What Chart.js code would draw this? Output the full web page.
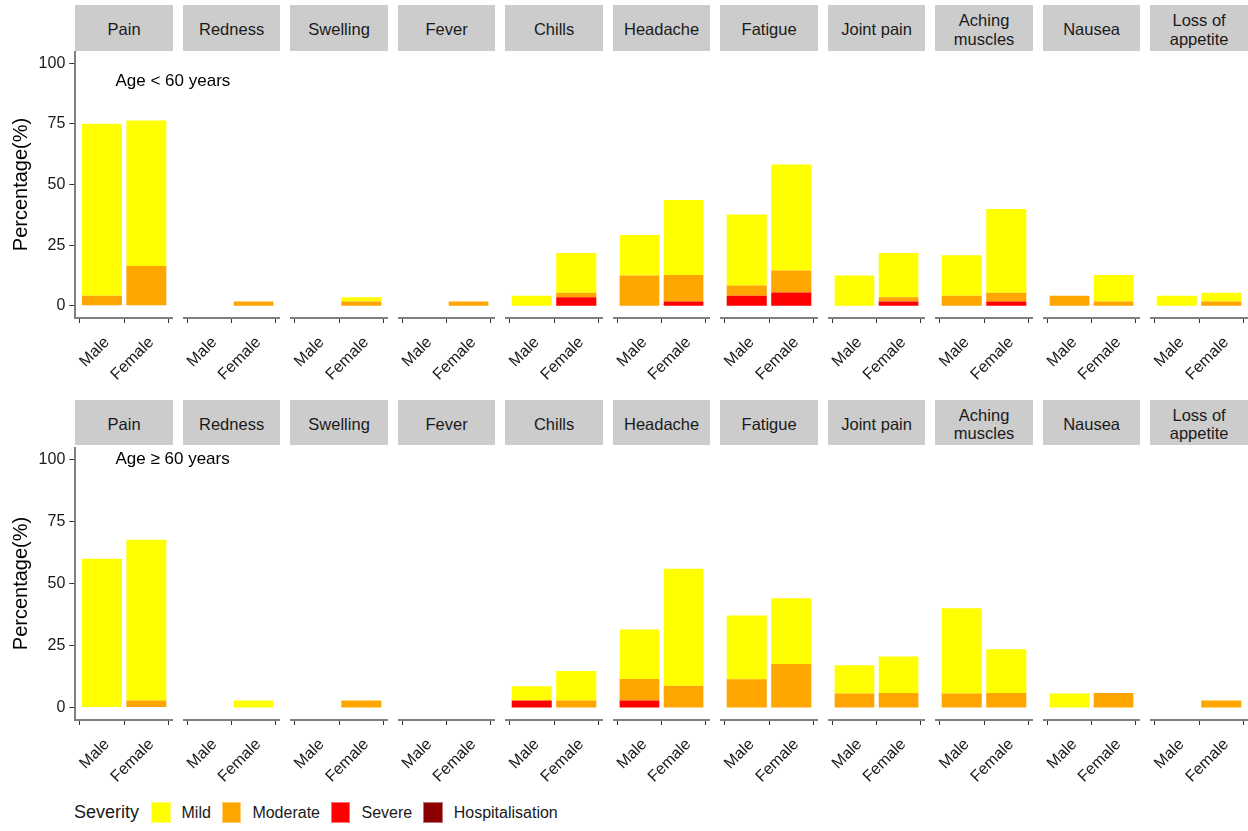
<!DOCTYPE html>
<html>
<head>
<meta charset="utf-8">
<script src="https://cdn.jsdelivr.net/npm/chart.js@4.4.0/dist/chart.umd.min.js"></script>
<style>
  html, body { margin: 0; padding: 0; background: #fff; }
  body { width: 1248px; height: 831px; overflow: hidden; position: relative;
         font-family: "Liberation Sans", Arial, sans-serif; }
  .strip { position: absolute; background: #cccccc; display: flex; align-items: center;
           justify-content: center; text-align: center; font-size: 16.5px; line-height: 18.6px;
           color: #1a1a1a; box-sizing: border-box; padding-top: 3.5px; }
  .panel { position: absolute; }
  .panel canvas { display: block; }
  .tag { position: absolute; font-size: 17px; color: #000; white-space: nowrap; line-height: 20px; }
  .legend { position: absolute; left: 74px; top: 802px; height: 21px; display: flex;
            align-items: center; color: #1a1a1a; white-space: nowrap; }
  .legend .title { font-size: 18px; margin-right: 12px; }
  .legend .key { width: 19.5px; height: 20.5px; box-sizing: border-box;
                 border: 1px solid rgba(255,255,255,0.45); }
  .legend .lab { font-size: 16px; margin-left: 11px; margin-right: 11px; }
</style>
</head>
<body>
<script>
// Symptom facets (columns) and the two sexes inside each facet
const symptoms = ['Pain', 'Redness', 'Swelling', 'Fever', 'Chills', 'Headache', 'Fatigue',
                  'Joint pain', 'Aching muscles', 'Nausea', 'Loss of appetite'];
const stripLabels = ['Pain', 'Redness', 'Swelling', 'Fever', 'Chills', 'Headache', 'Fatigue',
                     'Joint pain', ['Aching', 'muscles'], 'Nausea', ['Loss of', 'appetite']];
const sexes = ['Male', 'Female'];
// Stack order, bottom to top
const severities = ['Hospitalisation', 'Severe', 'Moderate', 'Mild'];
const legendOrder = ['Mild', 'Moderate', 'Severe', 'Hospitalisation'];
const yTicks = [0, 25, 50, 75, 100];
const ageLabels = ['Age < 60 years', 'Age \u2265 60 years'];

// Percentages by symptom (same order as `symptoms`)
// Age < 60 years, male
const under60MaleMild     = [70.8, 0, 0, 0, 4.2, 16.7, 29.2, 12.5, 16.7, 0, 4.2];
const under60MaleModerate = [4.2, 0, 0, 0, 0, 12.5, 4.2, 0, 4.2, 4.2, 0];
const under60MaleSevere   = [0, 0, 0, 0, 0, 0, 4.2, 0, 0, 0, 0];
const under60MaleHosp     = [0, 0, 0, 0, 0, 0, 0, 0, 0, 0, 0];
// Age < 60 years, female
const under60FemaleMild     = [60.0, 0, 1.8, 0, 16.4, 30.9, 43.6, 18.2, 34.5, 10.9, 3.6];
const under60FemaleModerate = [16.4, 1.8, 1.8, 1.8, 1.8, 10.9, 9.1, 1.8, 3.6, 1.8, 1.8];
const under60FemaleSevere   = [0, 0, 0, 0, 3.6, 1.8, 5.5, 1.8, 1.8, 0, 0];
const under60FemaleHosp     = [0, 0, 0, 0, 0, 0, 0, 0, 0, 0, 0];
// Age >= 60 years, male
const over60MaleMild     = [60.0, 0, 0, 0, 5.7, 20.0, 25.7, 11.4, 34.3, 5.7, 0];
const over60MaleModerate = [0, 0, 0, 0, 0, 8.6, 11.4, 5.7, 5.7, 0, 0];
const over60MaleSevere   = [0, 0, 0, 0, 2.9, 2.9, 0, 0, 0, 0, 0];
const over60MaleHosp     = [0, 0, 0, 0, 0, 0, 0, 0, 0, 0, 0];
// Age >= 60 years, female
const over60FemaleMild     = [64.7, 2.9, 0, 0, 11.8, 47.1, 26.5, 14.7, 17.6, 0, 0];
const over60FemaleModerate = [2.9, 0, 2.9, 0, 2.9, 8.8, 17.6, 5.9, 5.9, 5.9, 2.9];
const over60FemaleSevere   = [0, 0, 0, 0, 0, 0, 0, 0, 0, 0, 0];
const over60FemaleHosp     = [0, 0, 0, 0, 0, 0, 0, 0, 0, 0, 0];

const severityColors = {
  Mild: '#FFFF00', Moderate: '#FFA500', Severe: '#FF0000', Hospitalisation: '#8B0000'
};

const rowValues = [
  {
    Male:   { Mild: under60MaleMild, Moderate: under60MaleModerate, Severe: under60MaleSevere, Hospitalisation: under60MaleHosp },
    Female: { Mild: under60FemaleMild, Moderate: under60FemaleModerate, Severe: under60FemaleSevere, Hospitalisation: under60FemaleHosp }
  },
  {
    Male:   { Mild: over60MaleMild, Moderate: over60MaleModerate, Severe: over60MaleSevere, Hospitalisation: over60MaleHosp },
    Female: { Mild: over60FemaleMild, Moderate: over60FemaleModerate, Severe: over60FemaleSevere, Hospitalisation: over60FemaleHosp }
  }
];

// Facet grid geometry
const FONT = '"Liberation Sans", Arial, sans-serif';
const PANEL_LEFT = 75.3, PANEL_PITCH = 107.5, PANEL_W = 97.6;
const X_AXIS_H = 75;
const rowLayout = [
  { stripTop: 5.2, stripBottom: 50.7, plotTop: 51, axisY: 318, tagTop: 70.5 },
  { stripTop: 400, stripBottom: 445, plotTop: 447, axisY: 720, tagTop: 448.5 }
];

function zeroPadding(s) {
  s.paddingLeft = 0; s.paddingRight = 0; s.paddingTop = 0; s.paddingBottom = 0;
}

function addStrip(row, c) {
  const L = rowLayout[row];
  const el = document.createElement('div');
  el.className = 'strip';
  const left = PANEL_LEFT + c * PANEL_PITCH;
  el.style.left = left + 'px';
  el.style.width = PANEL_W + 'px';
  el.style.top = L.stripTop + 'px';
  el.style.height = (L.stripBottom - L.stripTop) + 'px';
  const lab = stripLabels[c];
  if (Array.isArray(lab)) {
    lab.forEach((t, i) => {
      if (i) el.appendChild(document.createElement('br'));
      el.appendChild(document.createTextNode(t));
    });
  } else {
    el.textContent = lab;
  }
  document.body.appendChild(el);
}

function addPanel(row, c) {
  const L = rowLayout[row];
  const first = c === 0;
  const panelLeft = PANEL_LEFT + c * PANEL_PITCH;
  const left = first ? 0 : Math.round(panelLeft);
  const right = Math.round(panelLeft + PANEL_W);
  const top = L.plotTop;
  const plotH = L.axisY - top;
  const width = right - left;
  const height = plotH + X_AXIS_H;

  const wrap = document.createElement('div');
  wrap.className = 'panel';
  wrap.style.left = left + 'px';
  wrap.style.top = top + 'px';
  const cv = document.createElement('canvas');
  cv.width = width; cv.height = height;
  cv.style.width = width + 'px'; cv.style.height = height + 'px';
  wrap.appendChild(cv);
  document.body.appendChild(wrap);

  const vals = rowValues[row];
  const datasets = severities.map(s => ({
    label: s,
    backgroundColor: severityColors[s],
    borderWidth: 0,
    data: sexes.map((sex, i) => ({ x: i + 1, y: vals[sex][s][c] }))
  }));

  new Chart(cv, {
    type: 'bar',
    data: { datasets },
    options: {
      responsive: false,
      animation: false,
      devicePixelRatio: 1,
      layout: { padding: 0, autoPadding: false },
      barPercentage: 0.9,
      categoryPercentage: 1.0,
      plugins: { legend: { display: false }, tooltip: { enabled: false } },
      scales: {
        x: {
          type: 'linear', min: 0.4, max: 2.6, stacked: true, offset: false,
          afterBuildTicks: s => { s.ticks = sexes.map((_, i) => ({ value: i + 1 })); },
          afterFit: s => { s.height = X_AXIS_H; zeroPadding(s); },
          ticks: {
            autoSkip: false, minRotation: 45, maxRotation: 45, padding: 10, labelOffset: 5,
            font: { family: FONT, size: 16 }, color: '#1a1a1a',
            callback: v => sexes[Math.round(v) - 1]
          },
          grid: { display: true, drawOnChartArea: false, drawTicks: true, tickLength: 5,
                  tickColor: '#333333', tickWidth: 1 },
          border: { display: true, color: '#7f7f7f', width: 2 }
        },
        y: {
          display: first, min: -5, max: 105, stacked: true,
          afterBuildTicks: s => { s.ticks = yTicks.map(v => ({ value: v })); },
          afterFit: s => { s.width = first ? PANEL_LEFT : 0; zeroPadding(s); },
          ticks: { font: { family: FONT, size: 16 }, color: '#1a1a1a', padding: 4 },
          grid: { display: true, drawOnChartArea: false, drawTicks: true, tickLength: 6,
                  tickColor: '#333333', tickWidth: 1 },
          border: { display: true, color: '#7f7f7f', width: 2 },
          title: { display: true, text: 'Percentage(%)', color: '#000',
                   font: { family: FONT, size: 20 }, padding: { top: 9, bottom: 0 } }
        }
      }
    }
  });
}

rowLayout.forEach((L, row) => {
  symptoms.forEach((_, c) => { addStrip(row, c); addPanel(row, c); });
  const tag = document.createElement('div');
  tag.className = 'tag';
  tag.style.left = '115.5px';
  tag.style.top = L.tagTop + 'px';
  tag.textContent = ageLabels[row];
  document.body.appendChild(tag);
});

// Legend for severity fill colours
const legend = document.createElement('div');
legend.className = 'legend';
const lt = document.createElement('span');
lt.className = 'title';
lt.textContent = 'Severity';
legend.appendChild(lt);
legendOrder.forEach(s => {
  const k = document.createElement('span');
  k.className = 'key';
  k.style.background = severityColors[s];
  legend.appendChild(k);
  const t = document.createElement('span');
  t.className = 'lab';
  t.textContent = s;
  legend.appendChild(t);
});
document.body.appendChild(legend);
</script>
</body>
</html>
